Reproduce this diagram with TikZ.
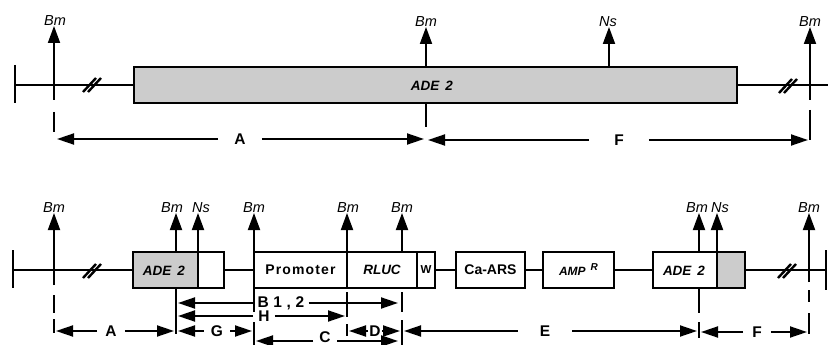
\documentclass[tikz,border=0pt]{standalone}
\usepackage{fontspec}
\setmainfont{Liberation Sans}
\usetikzlibrary{arrows.meta}
\begin{document}
\begin{tikzpicture}[x=1pt,y=-1pt,
  ln/.style={line width=1.9pt},
  gbox/.style={draw, line width=2pt, inner sep=0pt, outer sep=0pt, minimum height=36pt},
  sitelab/.style={font=\itshape\fontsize{14.5}{14.5}\selectfont, inner sep=0.5pt, anchor=south},
  sitearr/.style={line width=1.9pt, -{Triangle[length=17pt,width=12pt]}},
  dimarr/.style={line width=1.9pt, -{Triangle[length=17pt,width=11pt]}},
  dimlab/.style={font=\bfseries\fontsize{15.5}{15.5}\selectfont, inner ysep=0pt},
  boxtxt/.style={font=\bfseries\fontsize{14}{14}\selectfont},
  genetxt/.style={font=\bfseries\itshape\fontsize{13.5}{13.5}\selectfont},
  hash/.style={line width=2.4pt},
  endbar/.style={line width=2.2pt},
  genefill/.style={fill=black!20}
]
\useasboundingbox (0,0) rectangle (828,345);

% ================= TOP MAP =================
\coordinate (TL) at (15,85);
\coordinate (TR) at (828,85);
\node[gbox, genefill, minimum width=603pt] (Tade) at (435.5,85) {};
\node[genetxt] (Tadet) at (432,86) {ADE\hspace{6pt}2};
\draw[endbar] (15,65) -- (15,103);
\draw[ln] (TL) -- (Tade.west);
\draw[ln] (Tade.east) -- (TR);

% sites
\node[sitelab] (t1) at (55,26) {Bm};
\coordinate (t1b) at (54,100);
\draw[sitearr] (t1b) -- (54,26);
\node[sitelab] (t2) at (426,27) {Bm};
\coordinate (t2b) at (426,67);
\draw[sitearr] (t2b) -- (t2.south);
\node[sitelab] (t3) at (608,27) {Ns};
\coordinate (t3b) at (609,67);
\draw[sitearr] (t3b) -- (609,27);
\node[sitelab] (t4) at (810,27) {Bm};
\coordinate (t4b) at (810,100);
\draw[sitearr] (t4b) -- (t4.south);

% dimension lines (top)
\draw[ln] (54,112) -- (54,132);
\draw[ln] (Tade.south -| t2b) -- (426,127);
\draw[ln] (810,110) -- (810,140);
\node[dimlab, inner xsep=16pt] (tA) at (240,139) {A};
\draw[dimarr] (tA.west) -- (57,139);
\draw[dimarr] (tA.east) -- (424,139);
\node[dimlab, inner xsep=25pt] (tF) at (619,140) {F};
\draw[dimarr] (tF.west) -- (428,140);
\draw[dimarr] (tF.east) -- (808,140);

% ================= BOTTOM MAP =================
\coordinate (BL) at (13,270);
\coordinate (BR) at (826,270);
\fill[genefill] (133,252) rectangle (198,288);
\fill[genefill] (717,252) rectangle (745,288);
\node[gbox, minimum width=91pt] (Bade1) at (178.5,270) {};
\draw[line width=2pt] (198,252) -- (198,288);
\node[genetxt] at (164,271) {ADE\hspace{6pt}2};
\node[gbox, boxtxt, minimum width=93pt] (Bprom) at (300.5,270)
  {\addfontfeatures{LetterSpace=8}Promoter};
\node[gbox, genetxt, minimum width=70pt] (Brluc) at (382,270) {RLUC};
\node[gbox, font=\bfseries\fontsize{11.5}{11.5}\selectfont, minimum width=18pt] (Bw) at (426,270) {W};
\node[gbox, boxtxt, minimum width=69pt] (Bars) at (490.5,270) {Ca-ARS};
\node[gbox, minimum width=71pt] (Bamp) at (578.5,270)
  {\bfseries\itshape\fontsize{12}{12}\selectfont AMP\hspace{5pt}\raisebox{5pt}{\fontsize{10}{10}\selectfont R}};
\node[gbox, minimum width=92pt] (Bade2) at (699,270) {};
\draw[line width=2pt] (717,252) -- (717,288);
\node[genetxt] at (684,271) {ADE\hspace{6pt}2};
\draw[endbar] (13,250) -- (13,288);
\draw[line width=2.8pt] (826,250) -- (826,290);

\draw[ln] (BL) -- (Bade1.west);
\draw[ln] (Bade1.east) -- (Bprom.west);
\draw[ln] (Bw.east) -- (Bars.west);
\draw[ln] (Bars.east) -- (Bamp.west);
\draw[ln] (Bamp.east) -- (Bade2.west);
\draw[ln] (Bade2.east) -- (BR);

% hash marks
\foreach \hx/\hy in {92/85, 788/86, 92/271, 787/271}{
  \draw[hash] (\hx-9,\hy+7) -- (\hx+4,\hy-7);
  \draw[hash] (\hx-4,\hy+7) -- (\hx+9,\hy-7);
}

% sites (bottom)
\node[sitelab] (s1) at (54,213) {Bm};
\draw[sitearr] (54,285) -- (s1.south);
\node[sitelab] (s2) at (172,213) {Bm};
\draw[sitearr] (176,252) -- (176,213);
\node[sitelab] (s3) at (201,213) {Ns};
\draw[sitearr] (198,252) -- (198,213);
\node[sitelab] (s4) at (254,213) {Bm};
\draw[sitearr] (254,252) -- (s4.south);
\node[sitelab] (s5) at (348,213) {Bm};
\draw[sitearr] (347,252) -- (347,213);
\node[sitelab] (s6) at (402,213) {Bm};
\draw[sitearr] (402,252) -- (s6.south);
\node[sitelab] (s7) at (697,213) {Bm};
\draw[sitearr] (699,252) -- (699,213);
\node[sitelab] (s8) at (720,213) {Ns};
\draw[sitearr] (717,252) -- (717,213);
\node[sitelab] (s9) at (809,213) {Bm};
\draw[sitearr] (809,282) -- (s9.south);

% extension ticks (bottom)
\draw[ln] (54,295) -- (54,313);
\draw[ln] (54,319) -- (54,333);
\draw[ln] (176,288) -- (176,334);
\draw[ln] (254,289) -- (254,312);
\draw[ln] (254,322) -- (254,345);
\draw[ln] (347,292) -- (347,317);
\draw[ln] (347,324) -- (347,336);
\draw[ln] (402,292) -- (402,312);
\draw[ln] (402,320) -- (402,345);
\draw[ln] (699,288) -- (699,313);
\draw[ln] (699,322) -- (699,338);
\draw[ln] (809,290) -- (809,302);
\draw[ln] (809,313) -- (809,334);

% dimension lines (bottom)
\node[dimlab, inner xsep=4pt] (lB) at (281,303) {\addfontfeatures{LetterSpace=30}B1,2};
\draw[dimarr] (lB.west) -- (178,303);
\draw[dimarr] (lB.east) -- (398,303);
\node[dimlab, inner xsep=5pt] (lH) at (264,316) {H};
\draw[dimarr] (lH.west) -- (178,316);
\draw[dimarr] (lH.east) -- (345,316);
\node[dimlab, inner xsep=8pt] (lA) at (111,331) {A};
\draw[dimarr] (lA.west) -- (56,331);
\draw[dimarr] (lA.east) -- (174,331);
\node[dimlab, inner xsep=7pt] (lG) at (217,331) {G};
\draw[dimarr] (lG.west) -- (178,331);
\draw[dimarr] (lG.east) -- (252,331);
\node[dimlab, inner xsep=1pt] (lD) at (375,331) {D};
\draw[dimarr] (lD.west) -- (349,331);
\draw[dimarr] (lD.east) -- (400,331);
\node[dimlab, inner xsep=22pt] (lE) at (545,331) {E};
\draw[dimarr] (lE.west) -- (404,331);
\draw[dimarr] (lE.east) -- (697,331);
\node[dimlab, inner xsep=9pt] (lF) at (757,332) {F};
\draw[dimarr] (lF.west) -- (701,332);
\draw[dimarr] (lF.east) -- (807,332);
\node[dimlab] (lC) at (325,337.5) {C};
\coordinate (cL) at (313,341);
\coordinate (cR) at (337,341);
\draw[dimarr] (cL) -- (256,341);
\draw[dimarr] (cR) -- (398,341);
\end{tikzpicture}
\end{document}
